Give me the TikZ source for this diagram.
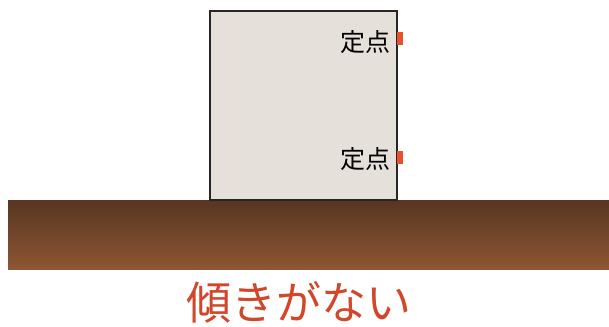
\documentclass[tikz,border=0pt]{standalone}
\usepackage{fontspec}
\setmainfont{Noto Sans CJK JP}
\usetikzlibrary{positioning}
\definecolor{boxgray}{HTML}{E6E0DB}
\definecolor{soiltop}{HTML}{573622}
\definecolor{soilbot}{HTML}{8E5633}
\definecolor{pinred}{HTML}{E8512E}
\definecolor{textred}{HTML}{D2472A}
\tikzstyle{block} = [rectangle, draw=black!85, line width=1.2pt, fill=boxgray, inner sep=0pt]
\tikzstyle{ground} = [rectangle, draw=none, inner sep=0pt, top color=soiltop, bottom color=soilbot]
\tikzstyle{pin} = [rectangle, fill=pinred, inner sep=0pt, minimum width=6pt, minimum height=13pt]
\tikzstyle{label} = [inner sep=0pt, font=\fontsize{25}{27}\selectfont]

\begin{document}
\begin{tikzpicture}[x=1pt, y=-1pt]
		\useasboundingbox (0,0) rectangle (609,326);
		\node [ground, minimum width=601pt, minimum height=69pt] (soil) at (308.5,234.5) {};
		\node [block, minimum width=187pt, minimum height=189pt] (box) at (303.5,105.5) {};
		
		\node [pin] (pinA) at (400,38.5) {};
		\node [pin] (pinB) at (400,157) {};
		\node [label, left=6pt of pinA, yshift=-4pt] (fixA) {定点};
		\node [label, left=6pt of pinB, yshift=-2pt] (fixB) {定点};
		
		\node [inner sep=0pt, text=textred, font=\fontsize{45}{48}\selectfont] (caption) at (299,302) {傾きがない};
	\end{tikzpicture}
\end{document}
